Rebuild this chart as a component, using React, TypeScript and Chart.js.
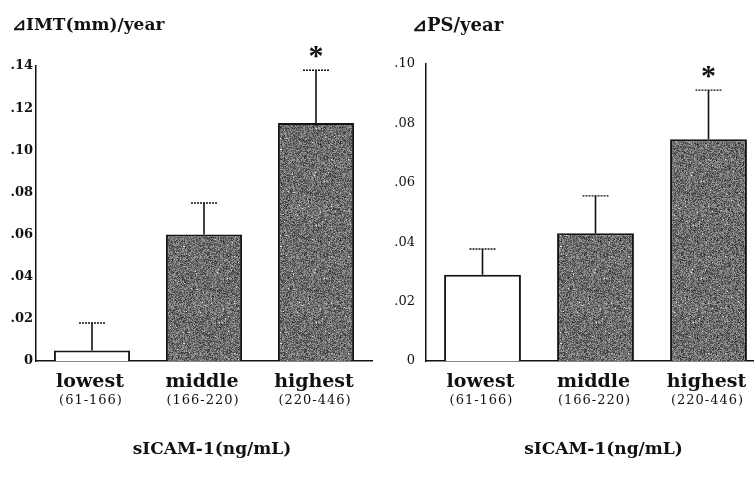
import React, { useEffect, useRef } from "react";
import { Chart, registerables } from "chart.js";

Chart.register(...registerables);

// ---- data ----
const categories = ["lowest", "middle", "highest"];
const ranges = ["(61-166)", "(166-220)", "(220-446)"];
const imtValues = [0.005, 0.06, 0.113];
const imtErrorTops = [0.018, 0.075, 0.138];
const psValues = [0.029, 0.043, 0.0747];
const psErrorTops = [0.0377, 0.0556, 0.0912];
const significant = [false, false, true];
const imtTickLabels = ["0", ".02", ".04", ".06", ".08", ".10", ".12", ".14"];
const psTickLabels = ["0", ".02", ".04", ".06", ".08", ".10"];
const xAxisTitle = "sICAM-1(ng/mL)";
const imtTitle = "⊿IMT(mm)/year";
const psTitle = "⊿PS/year";

let cachedPattern: CanvasPattern | null = null;
function noisePattern(): CanvasPattern | string {
  if (cachedPattern) return cachedPattern;
  const size = 97;
  const c = document.createElement("canvas");
  c.width = size;
  c.height = size;
  const ctx = c.getContext("2d");
  if (!ctx) return "#777";
  const img = ctx.createImageData(size, size);
  let seed = 12345;
  const rnd = () => {
    seed = (seed * 1103515245 + 12345) & 0x7fffffff;
    return seed / 0x7fffffff;
  };
  for (let i = 0; i < size * size; i++) {
    const r = rnd();
    let v = 112 + (rnd() - 0.5) * 100;
    if (r < 0.03) v = 30 + rnd() * 30;
    else if (r > 0.994) v = 230;
    img.data[i * 4] = v;
    img.data[i * 4 + 1] = v;
    img.data[i * 4 + 2] = v;
    img.data[i * 4 + 3] = 255;
  }
  ctx.putImageData(img, 0, 0);
  const p = ctx.createPattern(c, "repeat");
  if (!p) return "#777";
  cachedPattern = p;
  return p;
}

type PanelProps = {
  values: number[];
  errorTops: number[];
  tickLabels: string[];
  max: number;
  title: string;
  titleX: number;
  titleSize: number;
  axisWidth: number;
  tickPadding: number;
  padTop: number;
  padRight: number;
  tickBold: boolean;
  left: number;
  width: number;
};

function Panel(props: PanelProps) {
  const ref = useRef<HTMLCanvasElement | null>(null);
  useEffect(() => {
    if (!ref.current) return;
    const pattern = noisePattern();
    const overlay = {
      id: "overlay",
      afterDatasetsDraw(chart: any) {
        const ctx = chart.ctx as CanvasRenderingContext2D;
        const xs = chart.scales.x;
        const ys = chart.scales.y;
        const area = chart.chartArea;
        ctx.save();
        // error bars
        props.values.forEach((v, i) => {
          const x = xs.getPixelForValue(i);
          const yTop = ys.getPixelForValue(v);
          const yErr = ys.getPixelForValue(props.errorTops[i]);
          ctx.strokeStyle = "#111";
          ctx.lineWidth = 1.6;
          ctx.setLineDash([]);
          ctx.beginPath();
          ctx.moveTo(x, yTop);
          ctx.lineTo(x, yErr);
          ctx.stroke();
          ctx.lineWidth = 1.4;
          ctx.setLineDash([2, 1]);
          ctx.beginPath();
          ctx.moveTo(x - 13, yErr);
          ctx.lineTo(x + 13, yErr);
          ctx.stroke();
          ctx.setLineDash([]);
          if (significant[i]) {
            ctx.font = "bold 30px 'Liberation Serif'";
            ctx.fillStyle = "#111";
            ctx.textAlign = "center";
            ctx.textBaseline = "alphabetic";
            const m = ctx.measureText("*");
            const cy = yErr - 18;
            ctx.fillText("*", x, cy + (m.actualBoundingBoxAscent - m.actualBoundingBoxDescent) / 2);
          }
        });
        // category labels
        ctx.fillStyle = "#111";
        ctx.textAlign = "center";
        ctx.textBaseline = "middle";
        categories.forEach((c, i) => {
          const x = xs.getPixelForValue(i);
          ctx.font = "bold 19px 'DejaVu Serif'";
          (ctx as any).letterSpacing = "0px";
          ctx.fillText(c, x - 2, 382);
          ctx.font = "13px 'DejaVu Serif'";
          (ctx as any).letterSpacing = "1px";
          ctx.fillText(ranges[i], x - 1, 401);
        });
        (ctx as any).letterSpacing = "0px";
        // axis title
        ctx.font = "bold 17px 'DejaVu Serif'";
        ctx.fillText(xAxisTitle, (area.left + area.right) / 2 + 8, 450);
        // panel title
        ctx.textAlign = "left";
        ctx.font = `bold ${props.titleSize}px 'DejaVu Serif'`;
        ctx.fillText(props.title, props.titleX, 26);
        ctx.restore();
      },
    };
    const chart = new Chart(ref.current, {
      type: "bar",
      data: {
        labels: categories,
        datasets: [
          {
            data: props.values,
            backgroundColor: ["#ffffff", pattern, pattern] as any,
            borderColor: "#151515",
            borderWidth: 2,
            borderSkipped: "bottom",
            barPercentage: 0.68,
            categoryPercentage: 1,
          },
        ],
      },
      options: {
        animation: false,
        responsive: true,
        maintainAspectRatio: false,
        events: [],
        layout: { padding: { left: 0, top: props.padTop, right: props.padRight, bottom: 121 } },
        plugins: { legend: { display: false }, title: { display: false }, tooltip: { enabled: false } },
        scales: {
          x: {
            type: "category",
            grid: { display: false, drawTicks: false },
            border: { display: true, color: "#111", width: 1.5 },
            ticks: { display: false },
            afterFit(scale: any) {
              scale.height = 0;
            },
          },
          y: {
            type: "linear",
            min: 0,
            max: props.max,
            grid: { display: false, drawTicks: false },
            border: { display: true, color: "#111", width: 1.5 },
            ticks: {
              stepSize: 0.02,
              padding: props.tickPadding,
              color: "#111",
              font: { family: "'DejaVu Serif'", size: 13, weight: props.tickBold ? "bold" : "normal" },
              callback: (_v: any, idx: number) => props.tickLabels[idx],
            },
            afterFit(scale: any) {
              scale.width = props.axisWidth;
            },
          },
        },
      } as any,
      plugins: [overlay],
    });
    return () => chart.destroy();
  }, []);
  return (
    <div style={{ position: "absolute", left: props.left, top: 0, width: props.width, height: 482 }}>
      <canvas ref={ref} />
    </div>
  );
}

export default function App() {
  return (
    <div
      style={{
        position: "fixed",
        left: 0,
        top: 0,
        width: 754,
        height: 482,
        overflow: "hidden",
        background: "#fff",
      }}
    >
      <Panel
        values={imtValues}
        errorTops={imtErrorTops}
        tickLabels={imtTickLabels}
        max={0.14}
        title={imtTitle}
        titleX={12}
        titleSize={17}
        axisWidth={36}
        tickPadding={3}
        padTop={66}
        padRight={5}
        tickBold={true}
        left={0}
        width={377}
      />
      <Panel
        values={psValues}
        errorTops={psErrorTops}
        tickLabels={psTickLabels}
        max={0.1}
        title={psTitle}
        titleX={35}
        titleSize={18}
        axisWidth={49}
        tickPadding={11}
        padTop={64}
        padRight={12}
        tickBold={false}
        left={377}
        width={400}
      />
    </div>
  );
}
